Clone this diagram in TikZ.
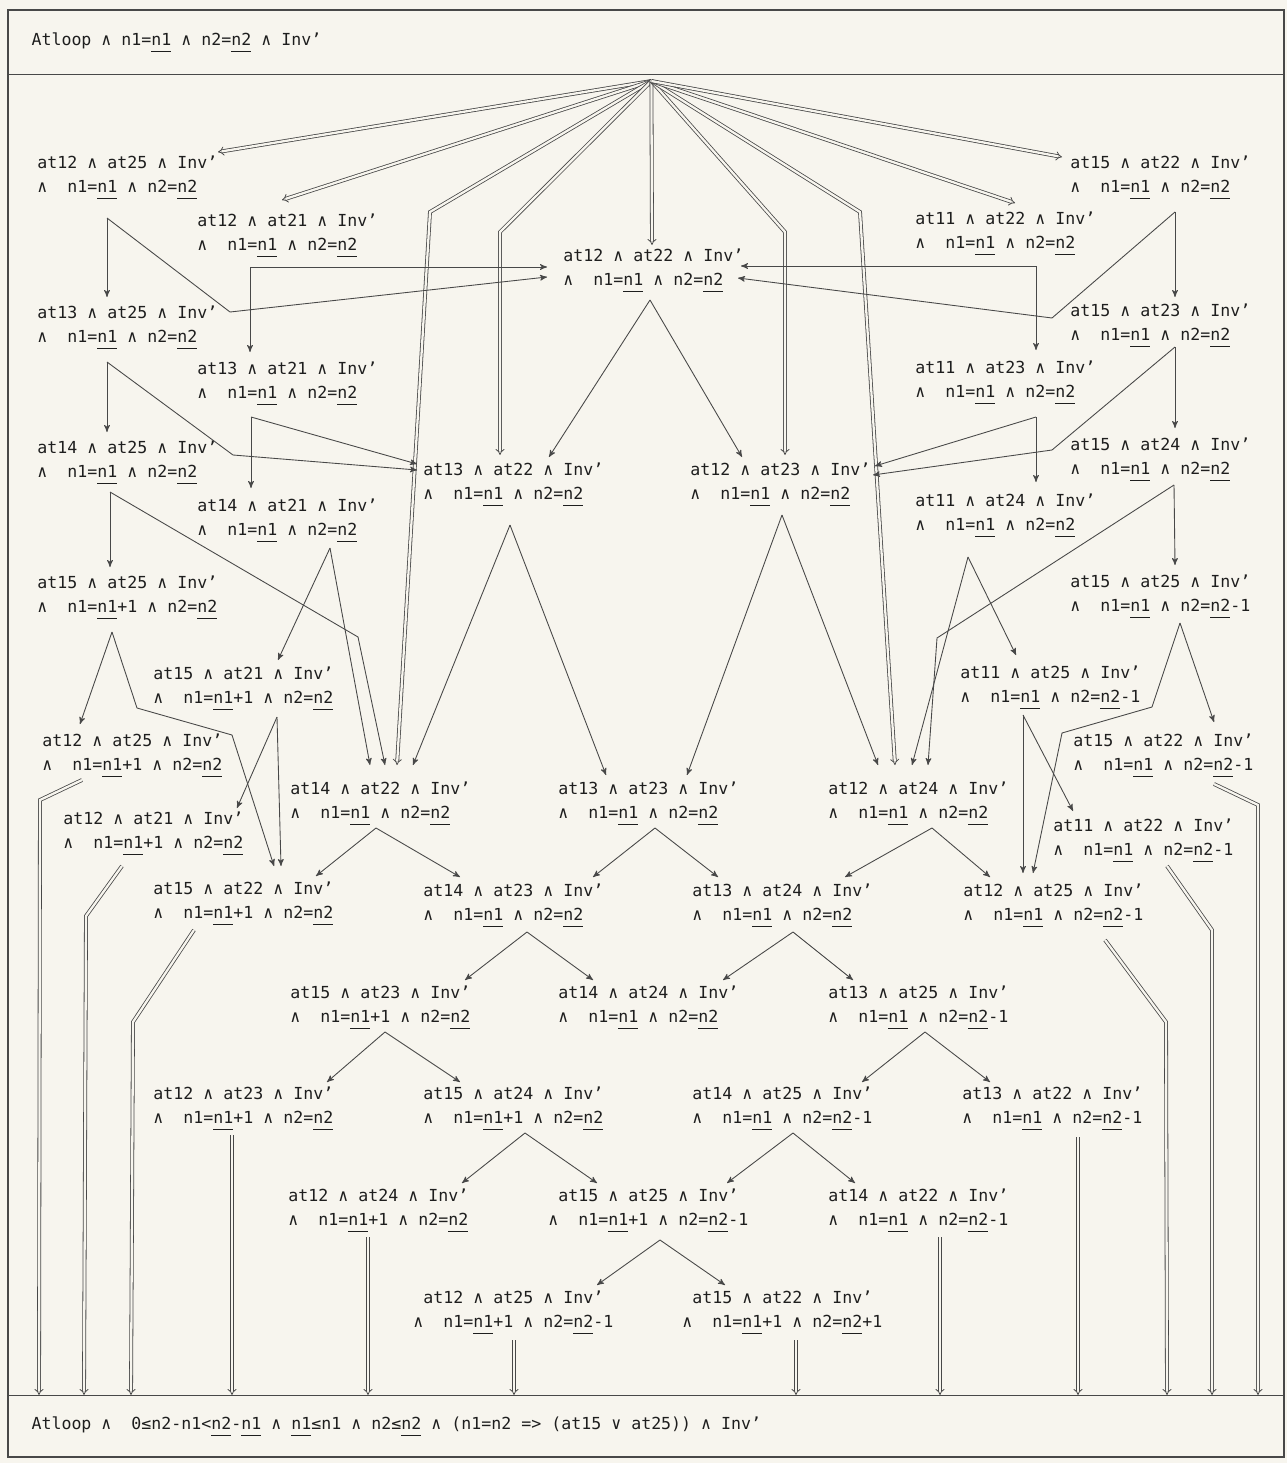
\documentclass[tikz,border=0pt]{standalone}
\usepackage{fontspec}
\setmainfont{DejaVu Sans Mono}
\usetikzlibrary{arrows,arrows.meta,positioning}
\definecolor{paper}{RGB}{247,245,238}
\definecolor{ink}{RGB}{30,30,30}
\definecolor{wire}{RGB}{72,72,72}
\newcommand\statefont{\fontsize{9.45}{13.66}\selectfont}
\newcommand\und[1]{\setbox0\hbox{#1}\rlap{\rule[-3.4pt]{\wd0}{0.5pt}}\box0\relax}
\newcommand\boxline[1]{\makebox[24.6cm][l]{#1}}
\tikzset
{
    state/.style = {anchor=north west, inner sep=0pt, align=left, text=ink, font=\statefont},
    box/.style   = {draw=wire, line width=0.6pt, anchor=north west, inner xsep=0.46cm, text=ink, font=\statefont},
    frame/.style = {draw=wire, line width=0.6pt, -},
    trans/.style = {draw=wire, line width=0.5pt, ->},
    twin/.style  = {draw=wire, line width=0.45pt, double=paper, double distance=1.3pt, -{Implies}}
}

\begin{document}
\begin{tikzpicture}[x=0.02cm, y=-0.02cm, >=stealth']
    \useasboundingbox (0,0) rectangle (1287,1463);
    \fill[paper] (0,0) rectangle (1287,1463);
    \draw[frame] (8,10) rectangle (1284,1457);
    \node[box, minimum height=1.28cm] (pre) at (8,10) {\boxline{Atloop ∧ n1=\und{n1} ∧ n2=\und{n2} ∧ Inv'}};
    \node[box, minimum height=1.24cm] (post) at (8,1395) {\boxline{Atloop ∧~~0≤n2-n1<\und{n2}-\und{n1} ∧ \und{n1}≤n1 ∧ n2≤\und{n2} ∧ (n1=n2 => (at15 ∨ at25)) ∧ Inv'}};
    \coordinate (hub) at ([shift={(5,6)}]pre.south);

    \node[state] (A1) at (37,156)   {at12 ∧ at25 ∧ Inv'\\∧~~n1=\und{n1} ∧ n2=\und{n2}};
    \node[state] (B1) at (197,214)  {at12 ∧ at21 ∧ Inv'\\∧~~n1=\und{n1} ∧ n2=\und{n2}};
    \node[state] (C1) at (563,249)  {at12 ∧ at22 ∧ Inv'\\∧~~n1=\und{n1} ∧ n2=\und{n2}};
    \node[state] (E1) at (915,212)  {at11 ∧ at22 ∧ Inv'\\∧~~n1=\und{n1} ∧ n2=\und{n2}};
    \node[state] (D1) at (1070,156) {at15 ∧ at22 ∧ Inv'\\∧~~n1=\und{n1} ∧ n2=\und{n2}};
    \node[state] (A2) at (37,306)   {at13 ∧ at25 ∧ Inv'\\∧~~n1=\und{n1} ∧ n2=\und{n2}};
    \node[state] (B2) at (197,362)  {at13 ∧ at21 ∧ Inv'\\∧~~n1=\und{n1} ∧ n2=\und{n2}};
    \node[state] (E2) at (915,361)  {at11 ∧ at23 ∧ Inv'\\∧~~n1=\und{n1} ∧ n2=\und{n2}};
    \node[state] (D2) at (1070,304) {at15 ∧ at23 ∧ Inv'\\∧~~n1=\und{n1} ∧ n2=\und{n2}};
    \node[state] (A3) at (37,441)   {at14 ∧ at25 ∧ Inv'\\∧~~n1=\und{n1} ∧ n2=\und{n2}};
    \node[state] (B3) at (197,499)  {at14 ∧ at21 ∧ Inv'\\∧~~n1=\und{n1} ∧ n2=\und{n2}};
    \node[state] (C2) at (423,463)  {at13 ∧ at22 ∧ Inv'\\∧~~n1=\und{n1} ∧ n2=\und{n2}};
    \node[state] (C3) at (690,463)  {at12 ∧ at23 ∧ Inv'\\∧~~n1=\und{n1} ∧ n2=\und{n2}};
    \node[state] (E3) at (915,494)  {at11 ∧ at24 ∧ Inv'\\∧~~n1=\und{n1} ∧ n2=\und{n2}};
    \node[state] (D3) at (1070,438) {at15 ∧ at24 ∧ Inv'\\∧~~n1=\und{n1} ∧ n2=\und{n2}};
    \node[state] (A4) at (37,576)   {at15 ∧ at25 ∧ Inv'\\∧~~n1=\und{n1}+1 ∧ n2=\und{n2}};
    \node[state] (B4) at (153,667)  {at15 ∧ at21 ∧ Inv'\\∧~~n1=\und{n1}+1 ∧ n2=\und{n2}};
    \node[state] (E4) at (960,666)  {at11 ∧ at25 ∧ Inv'\\∧~~n1=\und{n1} ∧ n2=\und{n2}-1};
    \node[state] (D4) at (1070,575) {at15 ∧ at25 ∧ Inv'\\∧~~n1=\und{n1} ∧ n2=\und{n2}-1};
    \node[state] (A5) at (42,734)   {at12 ∧ at25 ∧ Inv'\\∧~~n1=\und{n1}+1 ∧ n2=\und{n2}};
    \node[state] (B5) at (63,812)   {at12 ∧ at21 ∧ Inv'\\∧~~n1=\und{n1}+1 ∧ n2=\und{n2}};
    \node[state] (C4) at (290,782)  {at14 ∧ at22 ∧ Inv'\\∧~~n1=\und{n1} ∧ n2=\und{n2}};
    \node[state] (C5) at (558,782)  {at13 ∧ at23 ∧ Inv'\\∧~~n1=\und{n1} ∧ n2=\und{n2}};
    \node[state] (C6) at (828,782)  {at12 ∧ at24 ∧ Inv'\\∧~~n1=\und{n1} ∧ n2=\und{n2}};
    \node[state] (D5) at (1073,734) {at15 ∧ at22 ∧ Inv'\\∧~~n1=\und{n1} ∧ n2=\und{n2}-1};
    \node[state] (E5) at (1053,819) {at11 ∧ at22 ∧ Inv'\\∧~~n1=\und{n1} ∧ n2=\und{n2}-1};
    \node[state] (F1) at (153,882)  {at15 ∧ at22 ∧ Inv'\\∧~~n1=\und{n1}+1 ∧ n2=\und{n2}};
    \node[state] (F2) at (423,884)  {at14 ∧ at23 ∧ Inv'\\∧~~n1=\und{n1} ∧ n2=\und{n2}};
    \node[state] (F3) at (692,884)  {at13 ∧ at24 ∧ Inv'\\∧~~n1=\und{n1} ∧ n2=\und{n2}};
    \node[state] (F4) at (963,884)  {at12 ∧ at25 ∧ Inv'\\∧~~n1=\und{n1} ∧ n2=\und{n2}-1};
    \node[state] (G1) at (290,986)  {at15 ∧ at23 ∧ Inv'\\∧~~n1=\und{n1}+1 ∧ n2=\und{n2}};
    \node[state] (G2) at (558,986)  {at14 ∧ at24 ∧ Inv'\\∧~~n1=\und{n1} ∧ n2=\und{n2}};
    \node[state] (G3) at (828,986)  {at13 ∧ at25 ∧ Inv'\\∧~~n1=\und{n1} ∧ n2=\und{n2}-1};
    \node[state] (H1) at (153,1087) {at12 ∧ at23 ∧ Inv'\\∧~~n1=\und{n1}+1 ∧ n2=\und{n2}};
    \node[state] (H2) at (423,1087) {at15 ∧ at24 ∧ Inv'\\∧~~n1=\und{n1}+1 ∧ n2=\und{n2}};
    \node[state] (H3) at (692,1087) {at14 ∧ at25 ∧ Inv'\\∧~~n1=\und{n1} ∧ n2=\und{n2}-1};
    \node[state] (H4) at (962,1087) {at13 ∧ at22 ∧ Inv'\\∧~~n1=\und{n1} ∧ n2=\und{n2}-1};
    \node[state] (I1) at (288,1189) {at12 ∧ at24 ∧ Inv'\\∧~~n1=\und{n1}+1 ∧ n2=\und{n2}};
    \node[state] (I2) at (548,1189) {~at15 ∧ at25 ∧ Inv'\\∧~~n1=\und{n1}+1 ∧ n2=\und{n2}-1};
    \node[state] (I3) at (828,1189) {at14 ∧ at22 ∧ Inv'\\∧~~n1=\und{n1} ∧ n2=\und{n2}-1};
    \node[state] (J1) at (413,1291) {~at12 ∧ at25 ∧ Inv'\\∧~~n1=\und{n1}+1 ∧ n2=\und{n2}-1};
    \node[state] (J2) at (682,1291) {~at15 ∧ at22 ∧ Inv'\\∧~~n1=\und{n1}+1 ∧ n2=\und{n2}+1};

    % from the loop head
    \draw[twin] (hub) -- ([shift={(181,-4)}]A1.north west);
    \draw[twin] (hub) -- ([shift={(85,-14)}]B1.north west);
    \draw[twin] (hub) -- (430,212) -- ([shift={(107,-17)}]C4.north west);
    \draw[twin] (hub) -- (500,232) -- ([shift={(77,-8)}]C2.north west);
    \draw[twin] (hub) -- ([shift={(89,-4)}]C1.north west);
    \draw[twin] (hub) -- (785,232) -- ([shift={(95,-8)}]C3.north west);
    \draw[twin] (hub) -- (860,212) -- ([shift={(67,-17)}]C6.north west);
    \draw[twin] (hub) -- ([shift={(100,-9)}]E1.north west);
    \draw[twin] (hub) -- ([shift={(-8,1)}]D1.north west);

    \draw[trans] ([shift={(70,62)}]A1.north west) -- ([shift={(70,-9)}]A2.north west);
    \draw[trans] ([shift={(70,62)}]A1.north west) -- (230,312) -- ([shift={(-16,28)}]C1.north west);
    \draw[trans] ([shift={(53,53)}]B1.north west) -- ([shift={(53,-10)}]B2.north west);
    \draw[trans] ([shift={(53,53)}]B1.north west) -- ([shift={(-16,18)}]C1.north west);
    \draw[trans] ([shift={(121,54)}]E1.north west) -- ([shift={(178,17)}]C1.north west);
    \draw[trans] ([shift={(121,54)}]E1.north west) -- ([shift={(121,-11)}]E2.north west);
    \draw[trans] ([shift={(105,56)}]D1.north west) -- ([shift={(105,-7)}]D2.north west);
    \draw[trans] ([shift={(105,56)}]D1.north west) -- (1052,318) -- ([shift={(175,29)}]C1.north west);

    \draw[trans] ([shift={(70,56)}]A2.north west) -- ([shift={(70,-9)}]A3.north west);
    \draw[trans] ([shift={(70,56)}]A2.north west) -- (233,455) -- ([shift={(-6,7)}]C2.north west);
    \draw[trans] ([shift={(54,55)}]B2.north west) -- ([shift={(54,-11)}]B3.north west);
    \draw[trans] ([shift={(54,55)}]B2.north west) -- ([shift={(-6,1)}]C2.north west);
    \draw[trans] ([shift={(121,56)}]E2.north west) -- ([shift={(121,-12)}]E3.north west);
    \draw[trans] ([shift={(121,56)}]E2.north west) -- ([shift={(185,3)}]C3.north west);
    \draw[trans] ([shift={(105,43)}]D2.north west) -- ([shift={(105,-10)}]D3.north west);
    \draw[trans] ([shift={(105,43)}]D2.north west) -- (1052,450) -- ([shift={(183,12)}]C3.north west);

    \draw[trans] ([shift={(73,51)}]A3.north west) -- ([shift={(73,-9)}]A4.north west);
    \draw[trans] ([shift={(73,51)}]A3.north west) -- (358,637) -- ([shift={(95,-17)}]C4.north west);
    \draw[trans] ([shift={(133,49)}]B3.north west) -- ([shift={(125,-7)}]B4.north west);
    \draw[trans] ([shift={(133,49)}]B3.north west) -- ([shift={(80,-17)}]C4.north west);
    \draw[trans] ([shift={(87,51)}]C1.north west) -- ([shift={(126,-6)}]C2.north west);
    \draw[trans] ([shift={(87,51)}]C1.north west) -- ([shift={(52,-6)}]C3.north west);
    \draw[trans] ([shift={(87,62)}]C2.north west) -- ([shift={(123,-17)}]C4.north west);
    \draw[trans] ([shift={(87,62)}]C2.north west) -- ([shift={(48,-7)}]C5.north west);
    \draw[trans] ([shift={(92,52)}]C3.north west) -- ([shift={(129,-7)}]C5.north west);
    \draw[trans] ([shift={(92,52)}]C3.north west) -- ([shift={(50,-17)}]C6.north west);
    \draw[trans] ([shift={(53,63)}]E3.north west) -- ([shift={(56,-11)}]E4.north west);
    \draw[trans] ([shift={(53,63)}]E3.north west) -- ([shift={(84,-17)}]C6.north west);
    \draw[trans] ([shift={(104,47)}]D3.north west) -- ([shift={(105,-10)}]D4.north west);
    \draw[trans] ([shift={(104,47)}]D3.north west) -- (937,638) -- ([shift={(100,-17)}]C6.north west);

    \draw[trans] ([shift={(75,56)}]A4.north west) -- ([shift={(38,-10)}]A5.north west);
    \draw[trans] ([shift={(75,56)}]A4.north west) -- (137,708) -- (232,735) -- ([shift={(121,-16)}]F1.north west);
    \draw[trans] ([shift={(124,50)}]B4.north west) -- ([shift={(174,-4)}]B5.north west);
    \draw[trans] ([shift={(124,50)}]B4.north west) -- ([shift={(128,-16)}]F1.north west);
    \draw[trans] ([shift={(110,48)}]D4.north west) -- ([shift={(141,-12)}]D5.north west);
    \draw[trans] ([shift={(110,48)}]D4.north west) -- (1152,707) -- (1062,733) -- ([shift={(70,-11)}]F4.north west);
    \draw[trans] ([shift={(63,49)}]E4.north west) -- ([shift={(60,-11)}]F4.north west);
    \draw[trans] ([shift={(63,49)}]E4.north west) -- ([shift={(20,-8)}]E5.north west);

    \draw[trans] ([shift={(86,46)}]C4.north west) -- ([shift={(163,-6)}]F1.north west);
    \draw[trans] ([shift={(86,46)}]C4.north west) -- ([shift={(37,-7)}]F2.north west);
    \draw[trans] ([shift={(97,46)}]C5.north west) -- ([shift={(170,-7)}]F2.north west);
    \draw[trans] ([shift={(97,46)}]C5.north west) -- ([shift={(26,-7)}]F3.north west);
    \draw[trans] ([shift={(104,46)}]C6.north west) -- ([shift={(153,-7)}]F3.north west);
    \draw[trans] ([shift={(104,46)}]C6.north west) -- ([shift={(27,-7)}]F4.north west);
    \draw[trans] ([shift={(104,48)}]F2.north west) -- ([shift={(175,-6)}]G1.north west);
    \draw[trans] ([shift={(104,48)}]F2.north west) -- ([shift={(35,-6)}]G2.north west);
    \draw[trans] ([shift={(101,48)}]F3.north west) -- ([shift={(165,-6)}]G2.north west);
    \draw[trans] ([shift={(101,48)}]F3.north west) -- ([shift={(25,-6)}]G3.north west);
    \draw[trans] ([shift={(95,46)}]G1.north west) -- ([shift={(174,-5)}]H1.north west);
    \draw[trans] ([shift={(95,46)}]G1.north west) -- ([shift={(37,-5)}]H2.north west);
    \draw[trans] ([shift={(97,46)}]G3.north west) -- ([shift={(170,-5)}]H3.north west);
    \draw[trans] ([shift={(97,46)}]G3.north west) -- ([shift={(28,-5)}]H4.north west);
    \draw[trans] ([shift={(102,46)}]H2.north west) -- ([shift={(174,-6)}]I1.north west);
    \draw[trans] ([shift={(102,46)}]H2.north west) -- ([shift={(49,-6)}]I2.north west);
    \draw[trans] ([shift={(101,46)}]H3.north west) -- ([shift={(179,-6)}]I2.north west);
    \draw[trans] ([shift={(101,46)}]H3.north west) -- ([shift={(27,-6)}]I3.north west);
    \draw[trans] ([shift={(112,51)}]I2.north west) -- ([shift={(184,-6)}]J1.north west);
    \draw[trans] ([shift={(112,51)}]I2.north west) -- ([shift={(43,-6)}]J2.north west);

    % back to the loop head
    \draw[twin] ([shift={(40,46)}]A5.north west) -- (40,800) -- (39,0 |- post.north);
    \draw[twin] ([shift={(59,54)}]B5.north west) -- (86,916) -- (84,0 |- post.north);
    \draw[twin] ([shift={(41,48)}]F1.north west) -- (133,1022) -- (131,0 |- post.north);
    \draw[twin] ([shift={(79,48)}]H1.north west) -- (232,0 |- post.north);
    \draw[twin] ([shift={(80,48)}]I1.north west) -- (368,0 |- post.north);
    \draw[twin] ([shift={(101,49)}]J1.north west) -- (514,0 |- post.north);
    \draw[twin] ([shift={(114,49)}]J2.north west) -- (796,0 |- post.north);
    \draw[twin] ([shift={(112,48)}]I3.north west) -- (940,0 |- post.north);
    \draw[twin] ([shift={(116,50)}]H4.north west) -- (1078,0 |- post.north);
    \draw[twin] ([shift={(142,56)}]F4.north west) -- (1166,1022) -- (1167,0 |- post.north);
    \draw[twin] ([shift={(114,47)}]E5.north west) -- (1212,930) -- (1212,0 |- post.north);
    \draw[twin] ([shift={(141,50)}]D5.north west) -- (1258,805) -- (1258,0 |- post.north);
\end{tikzpicture}
\end{document}
